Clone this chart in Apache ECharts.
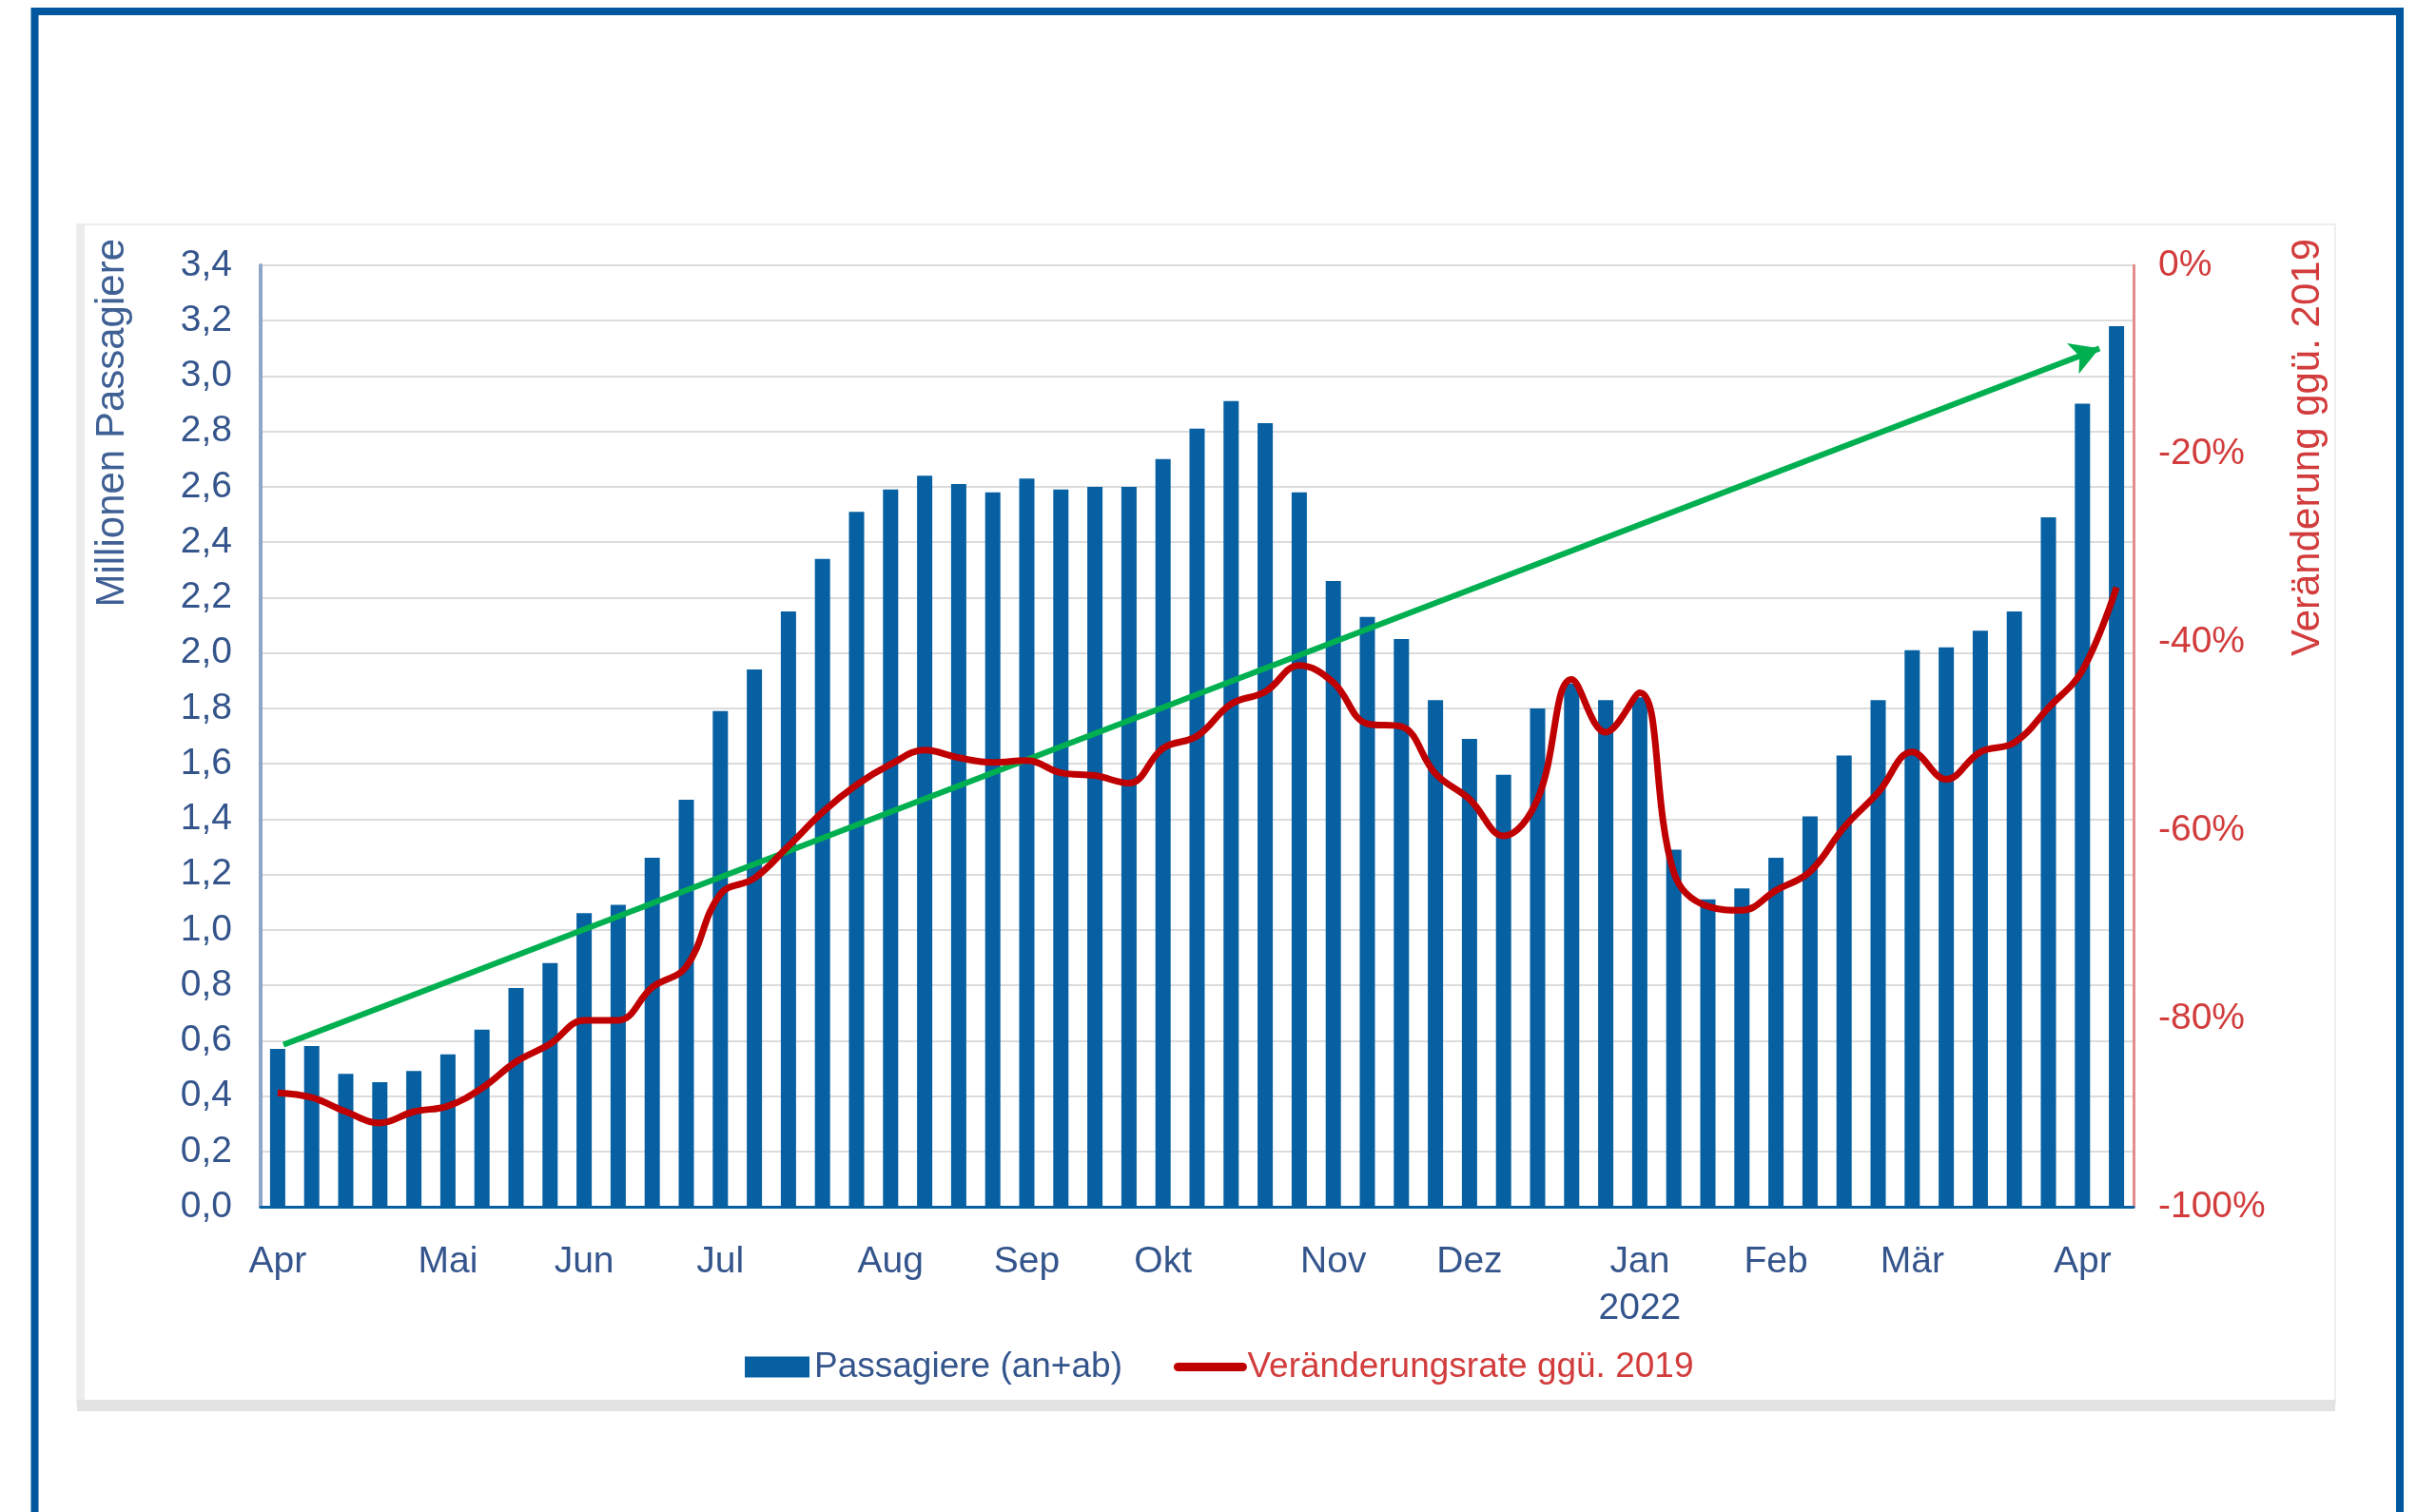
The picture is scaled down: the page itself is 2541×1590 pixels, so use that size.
<!DOCTYPE html>
<html>
<head>
<meta charset="utf-8">
<script src="https://cdn.jsdelivr.net/npm/echarts@6/dist/echarts.min.js"></script>
<style>
  html, body { margin: 0; padding: 0; background: #ffffff; }
  #chart { width: 2541px; height: 1590px; }
</style>
</head>
<body>
<div id="chart"></div>
<script>
// ---- data (weekly, Apr 2021 – Apr 2022) ----
const weeks = ['W01','W02','W03','W04','W05','W06','W07','W08','W09','W10',
  'W11','W12','W13','W14','W15','W16','W17','W18','W19','W20',
  'W21','W22','W23','W24','W25','W26','W27','W28','W29','W30',
  'W31','W32','W33','W34','W35','W36','W37','W38','W39','W40',
  'W41','W42','W43','W44','W45','W46','W47','W48','W49','W50',
  'W51','W52','W53','W54','W55'];

// Millionen Passagiere (an+ab)
const passengers = [0.57,0.58,0.48,0.45,0.49,0.55,0.64,0.79,0.88,1.06,
  1.09,1.26,1.47,1.79,1.94,2.15,2.34,2.51,2.59,2.64,
  2.61,2.58,2.63,2.59,2.60,2.60,2.70,2.81,2.91,2.83,
  2.58,2.26,2.13,2.05,1.83,1.69,1.56,1.80,1.89,1.83,
  1.84,1.29,1.11,1.15,1.26,1.41,1.63,1.83,2.01,2.02,
  2.08,2.15,2.49,2.90,3.18];

// Veränderungsrate ggü. 2019 (%)
const changeVs2019 = [-87.9,-88.4,-89.9,-91.1,-89.9,-89.3,-87.4,-84.6,-82.7,-80.2,
  -80.2,-76.7,-74.5,-66.8,-65.1,-61.7,-58.1,-55.2,-53.0,-51.5,
  -52.3,-52.8,-52.6,-53.9,-54.2,-55.0,-51.3,-50.0,-46.6,-45.3,
  -42.5,-44.3,-48.7,-49.0,-54.0,-56.7,-60.6,-56.7,-44.0,-49.6,
  -45.4,-64.5,-68.1,-68.5,-66.4,-64.4,-59.7,-56.0,-51.7,-54.6,
  -51.7,-50.7,-47.0,-43.0,-34.2];

// month tick labels on the category axis
const monthTickIndex = [0,5,9,13,18,22,26,31,35,40,44,48,53];
const monthTickLabel = ['Apr','Mai','Jun','Jul','Aug','Sep','Okt','Nov','Dez','Jan\n2022','Feb','Mär','Apr'];

// trend arrow (category position, Mio. Passagiere)
const trendStart = [0.17, 0.585];
const trendEnd = [53.5, 3.10];

// axis ticks
const leftAxis = { min: 0, max: 3.4, interval: 0.2 };
const rightAxis = { min: -100, max: 0, interval: 20 };

const seriesNames = ['Passagiere (an+ab)', 'Veränderungsrate ggü. 2019'];
const axisNames = ['Millionen Passagiere', 'Veränderung ggü. 2019'];

// ---- chart ----
const FONT = "'Liberation Sans', Arial, sans-serif";
const BLUE = '#0660A2';
const RED = '#C00000';
const GREEN = '#00B050';
const LABEL_BLUE = '#34558C';
const LABEL_RED = '#D23C3C';

const chart = echarts.init(document.getElementById('chart'), null, { renderer: 'canvas' });

const labelMap = {};
monthTickIndex.forEach((i, k) => { labelMap[i] = monthTickLabel[k]; });

const option = {
  backgroundColor: '#ffffff',
  animation: false,
  graphic: [
    // chart panel with faint shadow
    { type: 'rect', shape: { x: 81, y: 236, width: 2374, height: 1240 },
      style: { fill: '#ffffff', stroke: '#EEEEEE', lineWidth: 2 }, z: -10 },
    { type: 'rect', shape: { x: 81, y: 236, width: 8, height: 1246 },
      style: { fill: '#ECECEC' }, z: -9 },
    { type: 'rect', shape: { x: 81, y: 1472, width: 2374, height: 12 },
      style: { fill: '#E3E3E3' }, z: -9 },
    // outer blue frame
    { type: 'rect', shape: { x: 36.5, y: 12, width: 2486.5, height: 1700 },
      style: { fill: 'none', stroke: '#0057A0', lineWidth: 8 }, z: 100 },
    // axis names
    { type: 'text', x: 118, y: 251, rotation: Math.PI / 2,
      style: { text: axisNames[0], font: '42px ' + FONT, fill: '#3F6094',
               align: 'right', verticalAlign: 'middle' } },
    { type: 'text', x: 2426, y: 251, rotation: Math.PI / 2,
      style: { text: axisNames[1], font: '42px ' + FONT, fill: LABEL_RED,
               align: 'right', verticalAlign: 'middle' } }
  ],
  grid: { left: 274, right: 298, top: 279, bottom: 321, containLabel: false },
  legend: {
    left: 778, top: 1414,
    itemWidth: 68, itemHeight: 22, itemGap: 54,
    textStyle: { fontFamily: FONT, fontSize: 37 },
    data: [
      { name: seriesNames[0], icon: 'rect', textStyle: { color: LABEL_BLUE } },
      { name: seriesNames[1], textStyle: { color: LABEL_RED },
        itemStyle: { opacity: 0 },
        lineStyle: { width: 9, cap: 'round' } }
    ]
  },
  xAxis: [
    {
      type: 'category', data: weeks, boundaryGap: true,
      axisLine: { lineStyle: { color: BLUE, width: 3 } },
      axisTick: { show: false },
      axisLabel: {
        interval: (idx) => labelMap[idx] !== undefined,
        formatter: (val, idx) => labelMap[idx] || '',
        color: LABEL_BLUE, fontFamily: FONT, fontSize: 39, lineHeight: 49, margin: 34
      },
      splitLine: { show: false }
    },
    { type: 'value', min: -0.5, max: weeks.length - 0.5, show: false }
  ],
  yAxis: [
    {
      type: 'value', min: leftAxis.min, max: leftAxis.max, interval: leftAxis.interval,
      position: 'left',
      axisLine: { show: true, onZero: false, lineStyle: { color: '#8FA6C6', width: 4 } },
      axisTick: { show: false },
      axisLabel: { color: LABEL_BLUE, fontFamily: FONT, fontSize: 39, margin: 30,
        formatter: (v) => v.toFixed(1).replace('.', ',') },
      splitLine: { show: true, lineStyle: { color: '#DCDCDC', width: 2 } }
    },
    {
      type: 'value', min: rightAxis.min, max: rightAxis.max, interval: rightAxis.interval,
      position: 'right',
      axisLine: { show: true, onZero: false, lineStyle: { color: '#E38C8C', width: 3 } },
      axisTick: { show: false },
      axisLabel: { color: LABEL_RED, fontFamily: FONT, fontSize: 39, margin: 26,
        formatter: (v) => v + '%' },
      splitLine: { show: false }
    }
  ],
  series: [
    {
      name: seriesNames[0], type: 'bar', data: passengers,
      xAxisIndex: 0, yAxisIndex: 0, barWidth: 16,
      itemStyle: { color: BLUE }, z: 2
    },
    {
      name: seriesNames[1], type: 'line', data: changeVs2019,
      xAxisIndex: 0, yAxisIndex: 1, smooth: 0.4, symbol: 'none',
      lineStyle: { color: RED, width: 7 }, itemStyle: { color: RED }, z: 5
    },
    {
      name: 'Trend', type: 'line', xAxisIndex: 1, yAxisIndex: 0,
      data: [trendStart, trendEnd], symbol: 'none',
      lineStyle: { width: 0, opacity: 0 }, silent: true, z: 8,
      markLine: {
        silent: true, symbol: ['none', 'arrow'], symbolSize: [26, 30],
        label: { show: false },
        lineStyle: { color: GREEN, width: 6, type: 'solid' },
        data: [[{ coord: trendStart }, { coord: trendEnd }]],
        animation: false
      }
    }
  ]
};

chart.setOption(option);
</script>
</body>
</html>
